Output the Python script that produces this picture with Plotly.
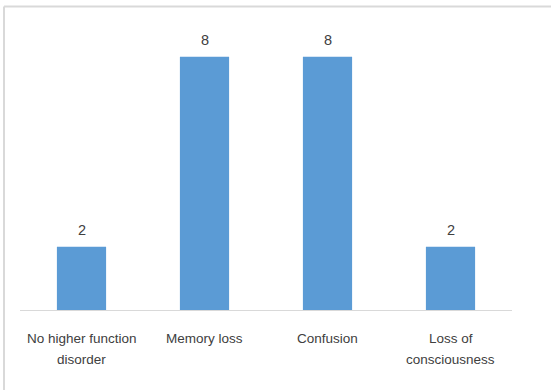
import plotly.graph_objects as go

# Higher-function findings (number of patients)
categories = ["No higher function disorder", "Memory loss", "Confusion", "Loss of consciousness"]
label_line1 = ["No higher function", "Memory loss", "Confusion", "Loss of"]
label_line2 = ["disorder", "", "", "consciousness"]
counts = [2, 8, 8, 2]

W, H = 551, 390
ml, mr, mt, mb = 20, 39, 25, 80
pw, ph = W - ml - mr, H - mt - mb

FONT = "Liberation Sans, Arial, sans-serif"
TXT = "#404040"

fig = go.Figure(
    go.Bar(
        x=categories,
        y=counts,
        width=0.4,
        marker=dict(color="#5B9BD5", line=dict(width=0)),
        hoverinfo="x+y",
    )
)

# value labels above each bar
for cat, val in zip(categories, counts):
    fig.add_annotation(x=cat, y=val, xref="x", yref="y", text=str(val), showarrow=False,
                       yanchor="bottom", yshift=7, font=dict(family=FONT, size=14.5, color=TXT))

# two-line category labels under the axis
for cat, l1, l2 in zip(categories, label_line1, label_line2):
    fig.add_annotation(x=cat, y=0, xref="x", yref="paper", text=l1, showarrow=False,
                       yanchor="middle", yshift=-28, font=dict(family=FONT, size=13.5, color=TXT))
    if l2:
        fig.add_annotation(x=cat, y=0, xref="x", yref="paper", text=l2, showarrow=False,
                           yanchor="middle", yshift=-49, font=dict(family=FONT, size=13.5, color=TXT))

# light frame along the top and left edges of the chart area
fx0 = (4 - ml) / pw
fy1 = 1 + (mt - 6.5) / ph
fig.add_shape(type="line", xref="paper", yref="paper", x0=fx0, x1=(W + 10 - ml) / pw, y0=fy1, y1=fy1,
              line=dict(color="#d9d9d9", width=2))
fig.add_shape(type="line", xref="paper", yref="paper", x0=fx0, x1=fx0, y0=fy1, y1=-(mb + 10) / ph,
              line=dict(color="#d9d9d9", width=2))

fig.update_layout(
    width=W,
    height=H,
    margin=dict(l=ml, r=mr, t=mt, b=mb, pad=0),
    paper_bgcolor="white",
    plot_bgcolor="white",
    showlegend=False,
    font=dict(family=FONT, size=13, color=TXT),
)
fig.update_xaxes(
    showline=True,
    linecolor="#d9d9d9",
    linewidth=1,
    ticks="",
    showgrid=False,
    showticklabels=False,
)
fig.update_yaxes(range=[0, 9], visible=False, showgrid=False, zeroline=False)

fig.write_html("out.html")
